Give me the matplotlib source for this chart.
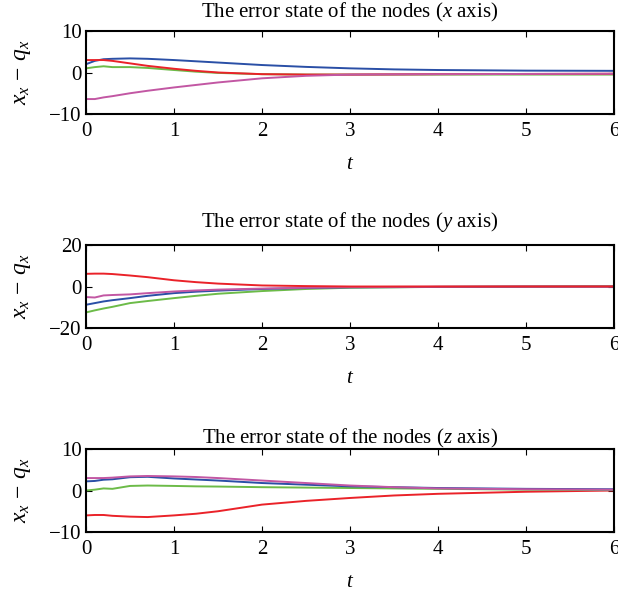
import matplotlib
matplotlib.use("Agg")
import matplotlib.pyplot as plt

plt.rcParams['font.family'] = ['Liberation Serif', 'DejaVu Serif']
plt.rcParams['mathtext.fontset'] = 'custom'
plt.rcParams['mathtext.rm'] = 'Liberation Serif'
plt.rcParams['mathtext.it'] = 'Liberation Serif:italic'

# time samples
t = [0, 0.1, 0.2, 0.3, 0.5, 0.7, 1.0, 1.25, 1.5, 2.0, 2.5, 3.0, 3.5, 4.0, 5.0, 6.0]

# x axis errors
x_blue    = [2.0, 2.8, 3.2, 3.3, 3.4, 3.3, 3.0, 2.7, 2.4, 1.8, 1.35, 1.0, 0.75, 0.6, 0.45, 0.4]
x_red     = [3.0, 3.0, 3.0, 2.8, 2.2, 1.6, 0.9, 0.4, 0.0, -0.4, -0.5, -0.5, -0.45, -0.4, -0.35, -0.3]
x_green   = [1.0, 1.3, 1.5, 1.3, 1.3, 1.1, 0.6, 0.2, -0.1, -0.4, -0.5, -0.5, -0.5, -0.5, -0.5, -0.5]
x_magenta = [-6.4, -6.4, -6.0, -5.7, -5.0, -4.4, -3.6, -3.0, -2.4, -1.4, -0.8, -0.5, -0.45, -0.4, -0.35, -0.3]

# y axis errors
y_red     = [6.1, 6.2, 6.2, 6.0, 5.3, 4.5, 3.0, 2.1, 1.4, 0.5, 0.2, 0.0, 0.0, 0.0, 0.0, 0.0]
y_magenta = [-5.1, -5.3, -4.3, -4.1, -3.8, -3.2, -2.4, -1.9, -1.5, -1.0, -0.6, -0.3, -0.2, -0.1, 0.0, 0.0]
y_blue    = [-8.8, -8.0, -7.2, -6.6, -5.6, -4.5, -3.2, -2.5, -2.0, -1.2, -0.7, -0.4, -0.3, -0.2, -0.1, -0.1]
y_green   = [-12.5, -11.5, -10.6, -9.8, -8.0, -7.0, -5.6, -4.5, -3.5, -2.2, -1.2, -0.6, -0.4, -0.2, 0.0, 0.2]

# z axis errors
z_magenta = [3.0, 3.0, 3.0, 3.1, 3.4, 3.5, 3.4, 3.25, 3.0, 2.4, 1.8, 1.2, 0.8, 0.5, 0.3, 0.2]
z_blue    = [2.2, 2.3, 2.6, 2.7, 3.2, 3.3, 2.9, 2.65, 2.4, 1.8, 1.4, 1.0, 0.8, 0.6, 0.4, 0.3]
z_green   = [0.0, 0.2, 0.5, 0.4, 1.1, 1.2, 1.1, 1.0, 0.95, 0.8, 0.7, 0.6, 0.5, 0.4, 0.2, 0.1]
z_red     = [-6.0, -5.9, -5.9, -6.1, -6.3, -6.4, -6.0, -5.6, -5.0, -3.4, -2.5, -1.8, -1.2, -0.8, -0.3, 0.0]

BLUE = '#2a4fa6'
RED = '#ea2229'
GREEN = '#6cbb48'
MAGENTA = '#c257a3'

titles = [r'The error state of the nodes ($x$ axis)',
          r'The error state of the nodes ($y$ axis)',
          r'The error state of the nodes ($z$ axis)']
ylims = [(-10, 10), (-20, 20), (-10, 10)]
yticks = [[-10, 0, 10], [-20, 0, 20], [-10, 0, 10]]
series = [
    [(x_blue, BLUE), (x_green, GREEN), (x_red, RED), (x_magenta, MAGENTA)],
    [(y_green, GREEN), (y_blue, BLUE), (y_magenta, MAGENTA), (y_red, RED)],
    [(z_red, RED), (z_green, GREEN), (z_blue, BLUE), (z_magenta, MAGENTA)],
]
W, H = 618, 595
boxes = [(31, 114), (245, 328), (449, 532)]
title_pads = [10, 13, 4]
left, right = 86, 614

fig = plt.figure(figsize=(W / 100, H / 100), dpi=100)
for i in range(3):
    top, bot = boxes[i]
    ax = fig.add_axes([left / W, 1 - bot / H, (right - left) / W, (bot - top) / H])
    for vals, c in series[i]:
        ax.plot(t, vals, color=c, lw=1.4)
    ax.set_xlim(0, 6)
    ax.set_ylim(*ylims[i])
    ax.set_xticks([0, 1, 2, 3, 4, 5, 6])
    ax.set_yticks(yticks[i])
    ax.set_yticklabels([('\u2212' + str(-v)) if v < 0 else str(v) for v in yticks[i]])
    ax.tick_params(direction='in', top=True, right=True, labelsize=15, length=4, width=0.8)
    ax.tick_params(axis='x', pad=6)
    ax.tick_params(axis='y', pad=3)
    for s in ax.spines.values():
        s.set_linewidth(1.5)
    ax.set_title(titles[i], fontsize=15, pad=title_pads[i])
    ax.set_xlabel(r'$t$', fontsize=15, labelpad=10)
    ax.set_ylabel(r'$x_x\,-\,q_x$', fontsize=17, labelpad=12)

fig.savefig('out.png', dpi=100)
